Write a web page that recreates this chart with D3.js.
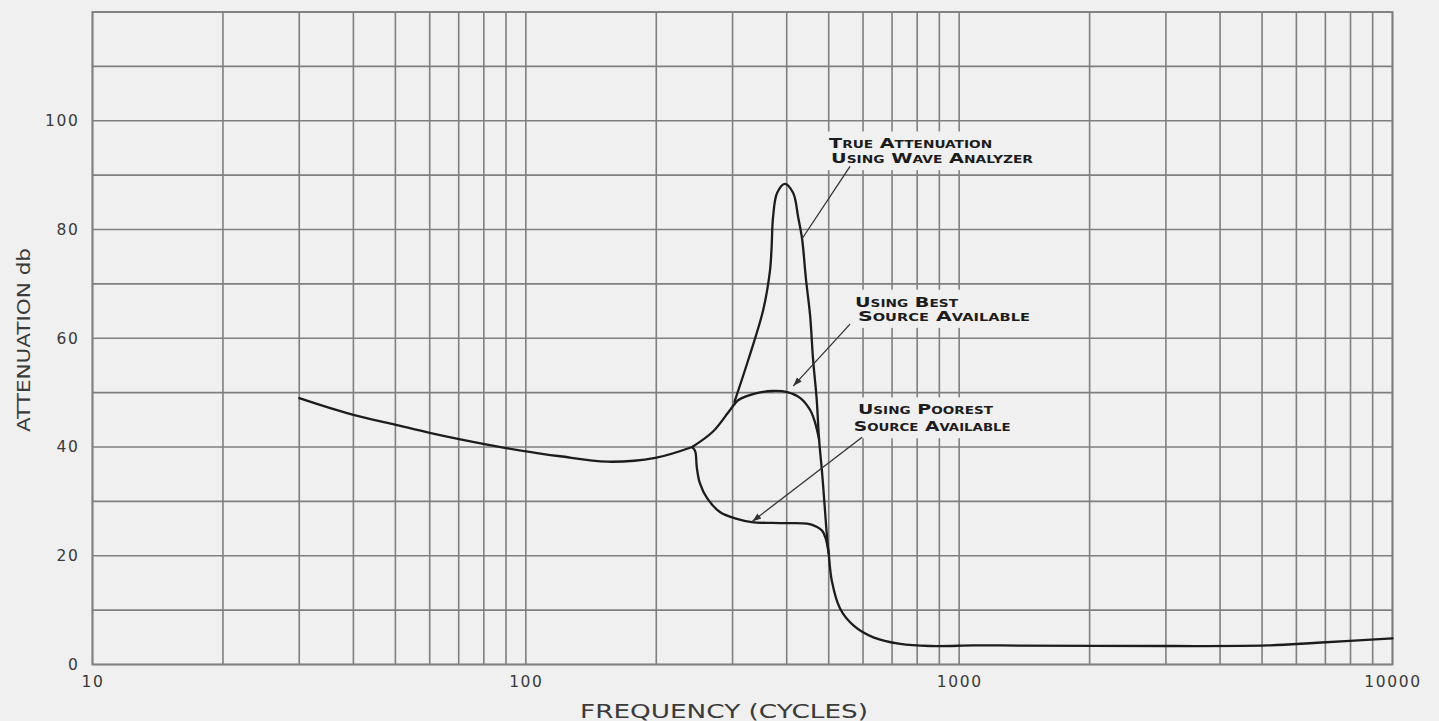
<!DOCTYPE html>
<html><head><meta charset="utf-8">
<script src="https://cdn.jsdelivr.net/npm/d3@7"></script>
<style>
html,body{margin:0;padding:0;background:#f0f0f0;}
svg{display:block;}
</style></head><body>
<svg id="chart" width="1439" height="721"></svg>
<script>
// ---------- data ----------
const xTickLabels = [10, 100, 1000, 10000];
const yTickLabels = [0, 20, 40, 60, 80, 100];

// shared low-frequency part of all three curves
const commonFreq = [30, 40, 49.4, 60, 70.6, 90, 108, 120, 154, 199, 242];
const commonDb   = [49.0, 45.9, 44.2, 42.6, 41.4, 39.8, 38.8, 38.3, 37.3, 38.0, 40.0];

// using poorest source available
const poorestFreq = [242, 246, 248, 252, 262, 281, 307, 332, 386, 446, 470, 483, 492, 500];
const poorestDb   = [40.0, 39.2, 36.3, 33.4, 30.6, 28.0, 26.8, 26.2, 26.0, 25.9, 25.3, 24.6, 23.2, 20.4];

// using best source available
const bestFreq = [242, 270, 296, 309, 341, 372, 401, 430, 453, 465, 475];
const bestDb   = [40.0, 42.8, 46.8, 48.6, 49.9, 50.3, 50.1, 49.0, 46.8, 44.5, 41.4];

// true attenuation using wave analyzer
const trueFreq = [303, 326, 353, 366, 369, 372, 380, 396, 414, 425, 434, 443, 453, 460, 469, 475, 483, 490, 495, 500, 508, 531, 570, 634, 731, 857, 1076, 1242, 3020, 5140, 6700, 10000];
const trueDb   = [48.3, 56.0, 65.2, 72.5, 76.5, 82.3, 86.7, 88.4, 86.7, 82.3, 78.3, 70.9, 64.1, 56.2, 48.8, 41.4, 35.0, 28.5, 23.9, 20.4, 15.5, 10.3, 7.2, 5.0, 3.8, 3.4, 3.5, 3.5, 3.4, 3.5, 4.0, 4.8];

// annotations (text lines, text anchor and leader line in data units)
const annoText = [["True Attenuation", "Using Wave Analyzer"],
                  ["Using Best", "Source Available"],
                  ["Using Poorest", "Source Available"]];
const annoTextFreq = [[501, 506], [575, 584], [584, 571]];
const annoTextDb   = [[94.9, 92.2], [65.8, 63.2], [46.0, 42.9]];
const leaderFrom = [[560, 91.6], [560, 62.6], [597, 41.8]];
const leaderTo   = [[434, 78.3], [414, 51.2], [333, 26.3]];

// ---------- layout / style ----------
const annoWidths = [[163, 202], [103, 172], [135, 157]];
const W = 1439, H = 721;
const plot = {left: 92.5, right: 1392.5, top: 12, bottom: 664.5};
const gridColor = "#7f7f7f";
const inkColor = "#1c1c1c";

const svg = d3.select("#chart");
svg.append("rect").attr("width", W).attr("height", H).attr("fill", "#f0f0f0");

const x = d3.scaleLog().domain([10, 10000]).range([plot.left, plot.right]);
const y = d3.scaleLinear().domain([0, 120]).range([plot.bottom, plot.top]);

// grid
const grid = svg.append("g");
grid.selectAll("line.v").data(x.ticks()).join("line")
  .attr("x1", d => x(d)).attr("x2", d => x(d))
  .attr("y1", y(0)).attr("y2", y(120))
  .attr("stroke", gridColor).attr("stroke-width", 1.6);
grid.selectAll("line.h").data(y.ticks(12)).join("line")
  .attr("y1", d => y(d)).attr("y2", d => y(d))
  .attr("x1", x(10)).attr("x2", x(10000))
  .attr("stroke", gridColor).attr("stroke-width", 1.6);

// axes
const yAxis = svg.append("g").attr("transform", `translate(${plot.left},0)`)
  .call(d3.axisLeft(y).tickValues(yTickLabels).tickSize(0).tickPadding(13));
const xAxis = svg.append("g").attr("transform", `translate(0,${plot.bottom})`)
  .call(d3.axisBottom(x).tickValues(xTickLabels).tickFormat(d3.format("d")).tickSize(0).tickPadding(11));
[yAxis, xAxis].forEach(a => {
  a.select(".domain").remove();
  a.selectAll("text").attr("font-family", "DejaVu Sans").attr("font-size", 15.5)
    .attr("letter-spacing", 1.6).attr("fill", "#3a3a3a");
});

// axis titles
svg.append("text").attr("x", 724).attr("y", 718)
  .attr("text-anchor", "middle").attr("font-family", "DejaVu Sans").attr("font-size", 19)
  .attr("fill", "#3a3a3a").attr("textLength", 288).attr("lengthAdjust", "spacingAndGlyphs")
  .text("FREQUENCY (CYCLES)");
svg.append("text").attr("transform", "translate(30,340) rotate(-90)")
  .attr("text-anchor", "middle").attr("font-family", "DejaVu Sans").attr("font-size", 17)
  .attr("fill", "#3a3a3a").attr("textLength", 184).attr("lengthAdjust", "spacingAndGlyphs")
  .text("ATTENUATION db");

// annotations text with erased grid behind
const annoG = svg.append("g");
annoText.forEach((lines, i) => {
  const g = annoG.append("g");
  lines.forEach((t, j) => g.append("text")
    .attr("x", x(annoTextFreq[i][j])).attr("y", y(annoTextDb[i][j]))
    .attr("font-family", "DejaVu Sans").attr("font-size", 14).attr("font-weight", "bold")
    .attr("font-variant", "small-caps").attr("fill", inkColor)
    .attr("textLength", annoWidths[i][j]).attr("lengthAdjust", "spacingAndGlyphs")
    .text(t));
  const bb = g.node().getBBox();
  g.insert("rect", "text").attr("x", bb.x - 2).attr("y", bb.y - 4)
    .attr("width", bb.width + 6).attr("height", bb.height + 8).attr("fill", "#f0f0f0");
});

// frame
svg.append("rect").attr("x", plot.left).attr("y", plot.top)
  .attr("width", plot.right - plot.left).attr("height", plot.bottom - plot.top)
  .attr("fill", "none").attr("stroke", gridColor).attr("stroke-width", 1.8);

// curves
const line = d3.line().x(d => x(d[0])).y(d => y(d[1])).curve(d3.curveCatmullRom.alpha(0.5));
const series = [
  d3.zip(commonFreq, commonDb),
  d3.zip(poorestFreq, poorestDb),
  d3.zip(bestFreq, bestDb),
  d3.zip(trueFreq, trueDb)
];
svg.append("g").selectAll("path").data(series).join("path")
  .attr("d", line).attr("fill", "none").attr("stroke", inkColor)
  .attr("stroke-width", 2.3).attr("stroke-linejoin", "round").attr("stroke-linecap", "round");

// leader lines with arrowheads
svg.append("defs").append("marker").attr("id", "arr")
  .attr("viewBox", "0 0 10 10").attr("refX", 10).attr("refY", 5)
  .attr("markerWidth", 7).attr("markerHeight", 7).attr("orient", "auto")
  .append("path").attr("d", "M0,1.5 L10,5 L0,8.5 Z").attr("fill", "#333");
svg.append("g").selectAll("line").data(d3.range(leaderFrom.length)).join("line")
  .attr("x1", i => x(leaderFrom[i][0])).attr("y1", i => y(leaderFrom[i][1]))
  .attr("x2", i => x(leaderTo[i][0])).attr("y2", i => y(leaderTo[i][1]))
  .attr("stroke", "#333").attr("stroke-width", 1.3)
  .attr("marker-end", i => i === 0 ? null : "url(#arr)");
</script>
</body></html>
